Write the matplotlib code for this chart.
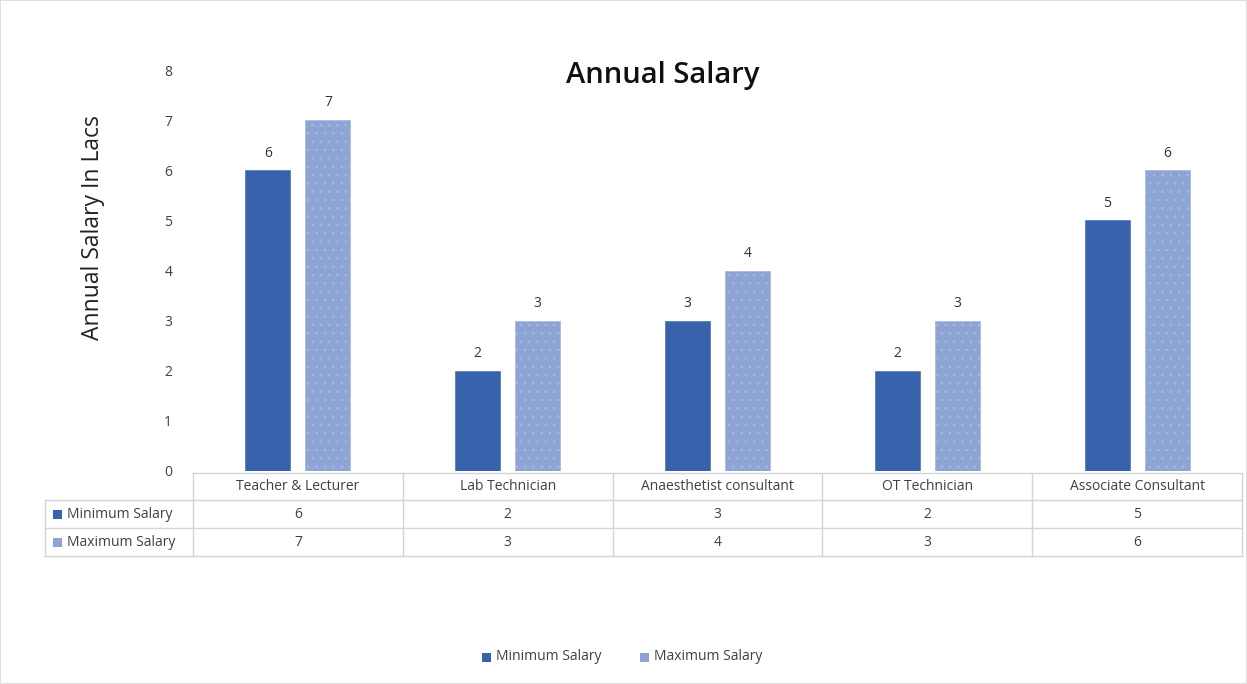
import matplotlib
matplotlib.use("Agg")
import matplotlib.pyplot as plt
from matplotlib.transforms import blended_transform_factory
from matplotlib.patches import Rectangle
import numpy as np

categories = ["Teacher & Lecturer", "Lab Technician", "Anaesthetist consultant", "OT Technician", "Associate Consultant"]
series_names = ["Minimum Salary", "Maximum Salary"]
min_salary = [6, 2, 3, 2, 5]
max_salary = [7, 3, 4, 3, 6]
series_values = [min_salary, max_salary]
colors = ["#3862AC", "#8DA4D5"]
yticks = [0, 1, 2, 3, 4, 5, 6, 7, 8]

plt.rcParams['font.family'] = ['Open Sans', 'DejaVu Sans']
plt.rcParams['hatch.color'] = "#A3B5DD"
plt.rcParams['hatch.linewidth'] = 0.5
W, H = 1247, 684
fig = plt.figure(figsize=(W / 100, H / 100), dpi=100)
fig.patches.append(Rectangle((0, 0), 1, 1, transform=fig.transFigure, fill=False,
                             edgecolor="#D9D9D9", linewidth=1.2))

def fx(px):
    return px / W

def fy(py):
    return 1 - py / H

left, right, top, bottom = 193, 1242, 70, 471
ax = fig.add_axes([fx(left), fy(bottom), fx(right - left), (bottom - top) / H])

x = np.arange(len(categories))
bw = 0.215
off = 0.143
bars1 = ax.bar(x - off, min_salary, bw, color=colors[0], edgecolor="#5B7FC0", linewidth=0.6)
bars2 = ax.bar(x + off, max_salary, bw, color=colors[1], edgecolor="#A9BBE0", linewidth=0.6,
               hatch="..")
ax.bar_label(bars1, padding=7, fontsize=10, color="#333333")
ax.bar_label(bars2, padding=7, fontsize=10, color="#333333")

ax.set_xlim(-0.5, len(categories) - 0.5)
ax.set_ylim(0, 8)
ax.set_yticks(yticks)
ax.set_yticklabels([str(t) for t in yticks], fontsize=10, color="#404040")
ax.tick_params(axis="y", length=0, pad=15)
ax.set_xticks([])
for s in ax.spines.values():
    s.set_visible(False)

fig.text(fx(663), fy(76), "Annual Salary", ha="center", va="center", fontsize=21,
         fontweight="semibold", color="#111111")
fig.text(fx(93), fy(228), "Annual Salary In Lacs", ha="center", va="center", rotation=90,
         fontsize=16.5, color="#222222")

# data table
tr = blended_transform_factory(ax.transData, fig.transFigure)
grid = "#D4D4D4"
row_y = [473, 500, 528, 556]
lbl_left = 45
xl, xr = -0.5, len(categories) - 0.5
ax.plot([xl, xr], [fy(row_y[0])] * 2, transform=tr, color=grid, lw=1, clip_on=False)
for yy in row_y[1:]:
    fig.add_artist(plt.Line2D([fx(lbl_left), fx(left)], [fy(yy)] * 2, color=grid, lw=1))
    ax.plot([xl, xr], [fy(yy)] * 2, transform=tr, color=grid, lw=1, clip_on=False)
fig.add_artist(plt.Line2D([fx(lbl_left)] * 2, [fy(row_y[1]), fy(row_y[3])], color=grid, lw=1))
for b in np.arange(len(categories) + 1) - 0.5:
    ax.plot([b, b], [fy(row_y[0]), fy(row_y[3])], transform=tr, color=grid, lw=1, clip_on=False)

for i, c in enumerate(categories):
    ax.text(i, fy((row_y[0] + row_y[1]) / 2), c, transform=tr, ha="center", va="center",
            fontsize=10, color="#404040")
for r, (name, vals, col) in enumerate(zip(series_names, series_values, colors)):
    yc = fy((row_y[r + 1] + row_y[r + 2]) / 2)
    fig.add_artist(Rectangle((fx(53), yc - 4.5 / H), 9 / W, 9 / H, transform=fig.transFigure,
                             facecolor=col, edgecolor="none"))
    fig.text(fx(67), yc, name, ha="left", va="center", fontsize=10, color="#404040")
    for i, v in enumerate(vals):
        ax.text(i, yc, str(v), transform=tr, ha="center", va="center", fontsize=10, color="#404040")

# legend
leg_items = [(482, series_names[0], colors[0]), (640, series_names[1], colors[1])]
for px, name, col in leg_items:
    yc = fy(657)
    fig.add_artist(Rectangle((fx(px), yc - 4.5 / H), 9 / W, 9 / H, transform=fig.transFigure,
                             facecolor=col, edgecolor="none"))
    fig.text(fx(px + 14), yc, name, ha="left", va="center", fontsize=10, color="#404040")

fig.savefig("out.png", dpi=100)
